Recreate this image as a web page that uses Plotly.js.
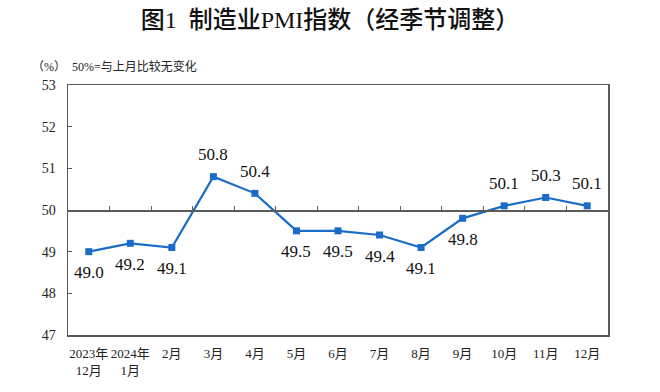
<!DOCTYPE html>
<html>
<head>
<meta charset="utf-8">
<script src="https://cdn.plot.ly/plotly-3.0.1.min.js"></script>
<style>html,body{margin:0;padding:0;background:#fff;}#chart{width:660px;height:392px;}</style>
</head>
<body>
<div id="chart"></div>
<script>
const categories = ["2023年<br>12月","2024年<br>1月","2月","3月","4月","5月","6月","7月","8月","9月","10月","11月","12月"];
const pmiValues = [49.0, 49.2, 49.1, 50.8, 50.4, 49.5, 49.5, 49.4, 49.1, 49.8, 50.1, 50.3, 50.1];
const labelAbove = [false, false, false, true, true, false, false, false, false, false, true, true, true];
const yTicks = [47, 48, 49, 50, 51, 52, 53];
const baseline = 50;

const serif = "Liberation Serif, Times New Roman, Noto Sans CJK SC, serif";
const idx = categories.map((_, i) => i);

const trace = {
  x: idx,
  y: pmiValues,
  type: "scatter",
  mode: "lines+markers",
  line: {color: "#1b6cc8", width: 2.2},
  marker: {symbol: "square", size: 7, color: "#1b6cc8"},
  cliponaxis: false,
  hoverinfo: "skip",
  showlegend: false
};

// invisible trace to drive the baseline axis
const baseTrace = {
  x: [idx[0], idx[idx.length-1]],
  y: [baseline, baseline],
  xaxis: "x2",
  yaxis: "y",
  mode: "lines",
  line: {color: "rgba(0,0,0,0)", width: 0},
  hoverinfo: "skip",
  showlegend: false
};

const valueLabels = pmiValues.map((v, i) => ({
  x: idx[i], y: v, xref: "x", yref: "y",
  text: v.toFixed(1),
  showarrow: false,
  xanchor: "center", yanchor: "middle",
  yshift: labelAbove[i] ? 22 : -21,
  font: {family: serif, size: 17, color: "#111"}
}));

const layout = {
  width: 660, height: 392,
  margin: {l: 68, r: 52, t: 85, b: 57},
  paper_bgcolor: "#fff", plot_bgcolor: "#fff",
  title: {
    text: "图1  制造业PMI指数（经季节调整）",
    font: {family: "Liberation Serif, Noto Sans CJK SC, serif", size: 24, color: "#111", weight: 500},
    x: 0.5, xanchor: "center", y: 0.95, yanchor: "middle", yref: "container"
  },
  xaxis: {
    type: "linear",
    range: [-0.5, 12.5],
    tickmode: "array",
    tickvals: idx,
    ticktext: categories,
    ticks: "",
    showgrid: false, zeroline: false,
    showline: true, linecolor: "#5a5a5a", linewidth: 1.5, mirror: true,
    tickfont: {family: serif, size: 13, color: "#222"},
    ticklabelstandoff: 6,
    fixedrange: true
  },
  xaxis2: {
    type: "linear",
    overlaying: "x",
    anchor: "free",
    position: (baseline - yTicks[0]) / (yTicks[yTicks.length-1] - yTicks[0]),
    side: "top",
    range: [-0.5, 12.5],
    tickmode: "array",
    tickvals: idx.slice(1).map(i => i - 0.5),
    ticks: "outside", ticklen: 4, tickcolor: "#5a5a5a", tickwidth: 1,
    showticklabels: false,
    showgrid: false, zeroline: false,
    showline: true, linecolor: "#5a5a5a", linewidth: 1.5
  },
  yaxis: {
    range: [yTicks[0], yTicks[yTicks.length-1]],
    tickmode: "array",
    tickvals: yTicks,
    ticks: "inside", ticklen: 4, tickcolor: "#5a5a5a",
    showgrid: false, zeroline: false,
    showline: true, linecolor: "#5a5a5a", linewidth: 1.5, mirror: true,
    tickfont: {family: serif, size: 14, color: "#222"},
    ticklabelstandoff: 8,
    fixedrange: true
  },
  annotations: [{
    text: "（%）  50%=与上月比较无变化",
    xref: "paper", yref: "paper",
    x: -0.07, y: 1.075, xanchor: "left", yanchor: "middle",
    showarrow: false,
    font: {family: serif, size: 12, color: "#222"}
  }].concat(valueLabels)
};

Plotly.newPlot("chart", [trace, baseTrace], layout, {displayModeBar: false, staticPlot: true});
</script>
</body>
</html>
